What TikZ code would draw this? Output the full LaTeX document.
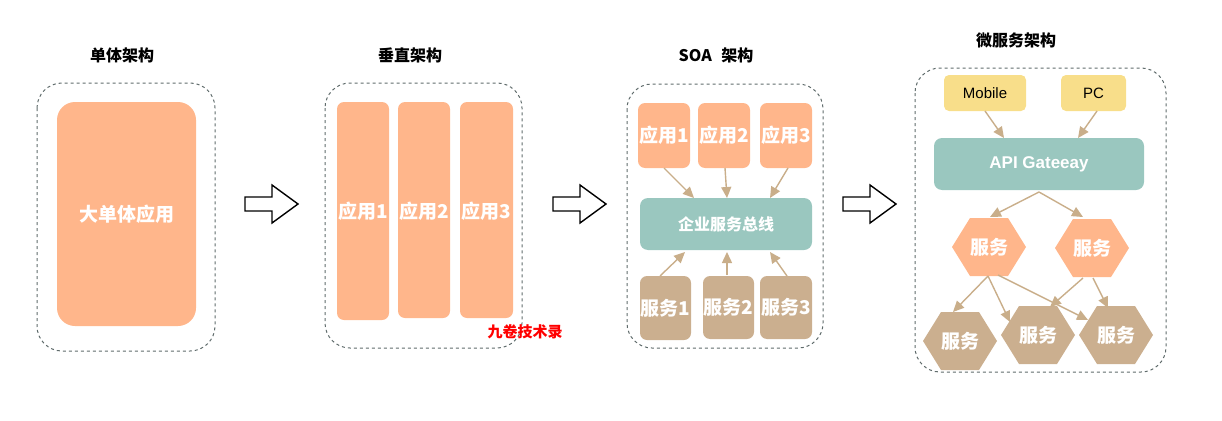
\documentclass[tikz,border=0pt]{standalone}
\usepackage{fontspec}
\setmainfont{Liberation Sans}
\newfontfamily\cjk{Noto Sans CJK SC}
\usetikzlibrary{arrows.meta}
\definecolor{org}{HTML}{FFB68B}
\definecolor{teal}{HTML}{9AC7BF}
\definecolor{brn}{HTML}{CBAF8F}
\definecolor{ylw}{HTML}{F8DE8A}
\definecolor{arr}{HTML}{C9AE8A}
\definecolor{dsh}{HTML}{5F6B6B}
\begin{document}
\begin{tikzpicture}[x=1pt,y=-1pt,
  panel/.style={draw=dsh,dashed,line width=1pt,rounded corners=25pt},
  title/.style={font=\cjk\bfseries\fontsize{16}{16}\selectfont,text=black},
  wt/.style={text=white,font=\cjk\bfseries\fontsize{19}{19}\selectfont},
  con/.style={draw=arr,line width=1.4pt,-{Triangle[width=10pt,length=11pt]}},
  hollow/.style={draw=black,line width=1.4pt,fill=white}]
\useasboundingbox (0,0) rectangle (1222,420);
% titles
\node[title] (t1) at (122,55) {单体架构};
\node[title] (t2) at (410,55) {垂直架构};
\node[title] (t3) at (716,55) {SOA\hspace{0.6em}架构};
\node[title] (t4) at (1016,40) {微服务架构};
% panel 1
\draw[panel] (37,83) rectangle (215,351);
\fill[org,rounded corners=18pt] (57,102) rectangle (196,326);
\node[wt] (big) at (126.5,214) {大单体应用};
% block arrows
\foreach \x in {245,553,843}{
  \draw[hollow] (\x,197) -- (\x+27,197) -- (\x+27,185) -- (\x+53,204) -- (\x+27,223) -- (\x+27,211) -- (\x,211) -- cycle;}
% panel 2
\draw[panel] (325,83) rectangle (522,348);
\fill[org,rounded corners=7pt] (337,102) rectangle (389,320);
\fill[org,rounded corners=7pt] (398,102) rectangle (450,318);
\fill[org,rounded corners=7pt] (460,102) rectangle (513,318);
\node[wt] (v1) at (363,211) {应用1};
\node[wt] (v2) at (424,211) {应用2};
\node[wt] (v3) at (486.5,211) {应用3};
\node[text=red,font=\cjk\bfseries\fontsize{15}{15}\selectfont] (wm) at (525,332) {九卷技术录};
% panel 3
\draw[panel] (627,84) rectangle (823,348);
\fill[org,rounded corners=7pt] (638,103) rectangle (690,168);
\fill[org,rounded corners=7pt] (698,103) rectangle (750,168);
\fill[org,rounded corners=7pt] (760,103) rectangle (812,168);
\node[wt] (a1) at (664,135) {应用1};
\node[wt] (a2) at (724,135) {应用2};
\node[wt] (a3) at (786,135) {应用3};
\fill[teal,rounded corners=8pt] (640,198) rectangle (812,250);
\node[wt,font=\cjk\bfseries\fontsize{16}{16}\selectfont] (bus) at (726,224) {企业服务总线};
\fill[brn,rounded corners=7pt] (640,276) rectangle (691,340);
\fill[brn,rounded corners=7pt] (703,276) rectangle (754,339);
\fill[brn,rounded corners=7pt] (760,276) rectangle (812,339);
\node[wt] (s1) at (665.5,308) {服务1};
\node[wt] (s2) at (728.5,307) {服务2};
\node[wt] (s3) at (786,307) {服务3};
\coordinate (a1b) at (664,168); \coordinate (a2b) at (725,168); \coordinate (a3b) at (788,168);
\coordinate (b1t) at (694,198); \coordinate (b2t) at (727,198); \coordinate (b3t) at (770,198);
\coordinate (s1t) at (660,276); \coordinate (s2t) at (727,275); \coordinate (s3t) at (787,276);
\coordinate (b1b) at (685,252); \coordinate (b2b) at (727,252); \coordinate (b3b) at (770,252);
\draw[con] (a1b) -- (b1t); \draw[con] (a2b) -- (b2t); \draw[con] (a3b) -- (b3t);
\draw[con] (s1t) -- (b1b); \draw[con] (s2t) -- (b2b); \draw[con] (s3t) -- (b3b);
% panel 4
\draw[panel] (915,68) rectangle (1166,372);
\fill[ylw,rounded corners=5pt] (944,75) rectangle (1026,111);
\fill[ylw,rounded corners=5pt] (1061,75) rectangle (1126,111);
\node[font=\fontsize{15}{15}\selectfont] (mob) at (985,93) {Mobile};
\node[font=\fontsize{15}{15}\selectfont] (pc) at (1093.5,93) {PC};
\fill[teal,rounded corners=8pt] (934,138) rectangle (1144,190);
\node[wt,font=\bfseries\fontsize{17}{17}\selectfont] (gw) at (1039,164) {API Gateeay};
\newcommand{\hexa}[3]{%
  \fill[#3] (#1-37,#2) -- (#1-19,#2-29) -- (#1+19,#2-29) -- (#1+37,#2) -- (#1+19,#2+29) -- (#1-19,#2+29) -- cycle;}
\hexa{989}{247}{org}
\hexa{1092}{248}{org}
\hexa{960}{341}{brn}
\hexa{1038}{335}{brn}
\hexa{1116}{335}{brn}
\node[wt] (h1) at (989,247) {服务};
\node[wt] (h2) at (1092,248) {服务};
\node[wt] (h3) at (960,341) {服务};
\node[wt] (h4) at (1038,335) {服务};
\node[wt] (h5) at (1116,335) {服务};
\coordinate (mb) at (985,111); \coordinate (pb) at (1097,111);
\coordinate (g1) at (1004,138); \coordinate (g2) at (1078,138);
\coordinate (gb) at (1039,192);
\coordinate (h1t) at (990,217); \coordinate (h2t) at (1083,217);
\coordinate (h1b) at (988,276); \coordinate (h1c) at (998,275);
\coordinate (h2b) at (1083,278); \coordinate (h2c) at (1093,278);
\coordinate (h3t) at (953,312); \coordinate (h4t) at (1010,322); \coordinate (h4u) at (1050,307);
\coordinate (h5t) at (1088,320); \coordinate (h5u) at (1108,308);
\draw[con] (mb) -- (g1); \draw[con] (pb) -- (g2);
\draw[con] (gb) -- (h1t); \draw[con] (gb) -- (h2t);
\draw[con] (h1b) -- (h3t); \draw[con] (h1b) -- (h4t); \draw[con] (h1c) -- (h5t);
\draw[con] (h2b) -- (h4u); \draw[con] (h2c) -- (h5u);
\end{tikzpicture}
\end{document}
